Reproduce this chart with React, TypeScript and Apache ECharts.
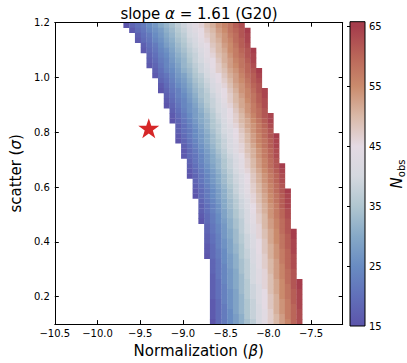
import React, { useEffect, useRef } from 'react';
import * as echarts from 'echarts';

const FONT = 'DejaVu Sans';

// Axis ticks
const xTicks = [-10.5, -10.0, -9.5, -9.0, -8.5, -8.0, -7.5];
const yTicks = [0.2, 0.4, 0.6, 0.8, 1.0, 1.2];
const cbarLabels = [15, 25, 35, 45, 55, 65];
const cbarTickMarks = [25, 35, 45, 55, 65];

// Model grid (β columns, σ rows)
const betaStart = -9.697;
const betaStep = 0.0675;
const sigmaTop = 1.2;
const sigmaStep = 1.1 / 60;

// first filled column of each σ row (top row first)
const rowStart = [
  0, 1, 2, 2, 3, 3, 4, 4, 4, 5, 5, 6, 6, 6, 7, 7, 7, 8, 8, 8,
  9, 9, 9, 9, 10, 10, 10, 11, 11, 11, 11, 12, 12, 12, 12, 13, 13, 13, 13, 13,
  14, 14, 14, 14, 14, 14, 14, 15, 15, 15, 15, 15, 15, 15, 15, 15, 15, 15, 15, 15,
];

// N_obs of each filled cell, row by row (top row first)
const rowValues = [
  [15, 18, 20, 22, 25, 27, 30, 32, 34, 37, 39, 42, 44, 46, 49, 51, 54, 56, 58, 61, 63],
  [16, 19, 21, 24, 26, 28, 31, 33, 36, 38, 41, 43, 45, 48, 50, 53, 55, 58, 60, 62, 65],
  [17, 20, 22, 25, 27, 30, 32, 35, 37, 40, 42, 45, 47, 49, 52, 54, 57, 59, 62, 64],
  [16, 19, 21, 24, 26, 29, 31, 34, 36, 39, 41, 44, 46, 49, 51, 54, 56, 59, 61, 64],
  [17, 20, 22, 25, 28, 30, 33, 35, 38, 40, 43, 45, 48, 50, 53, 55, 58, 61, 63],
  [16, 19, 21, 24, 26, 29, 32, 34, 37, 39, 42, 44, 47, 50, 52, 55, 57, 60, 62, 65],
  [18, 20, 23, 25, 28, 31, 33, 36, 38, 41, 44, 46, 49, 51, 54, 57, 59, 62, 64],
  [17, 19, 22, 24, 27, 30, 32, 35, 38, 40, 43, 45, 48, 51, 53, 56, 58, 61, 64],
  [16, 18, 21, 24, 26, 29, 32, 34, 37, 39, 42, 45, 47, 50, 53, 55, 58, 60, 63],
  [17, 20, 23, 25, 28, 31, 33, 36, 39, 41, 44, 47, 49, 52, 54, 57, 60, 62, 65],
  [16, 19, 21, 24, 27, 29, 32, 35, 37, 40, 43, 45, 48, 51, 53, 56, 59, 61, 64],
  [18, 20, 23, 26, 28, 31, 34, 36, 39, 42, 45, 47, 50, 53, 55, 58, 61, 63],
  [16, 19, 22, 25, 27, 30, 33, 35, 38, 41, 43, 46, 49, 52, 54, 57, 60, 62],
  [15, 18, 21, 23, 26, 29, 32, 34, 37, 40, 43, 45, 48, 51, 54, 56, 59, 62, 64],
  [17, 20, 23, 25, 28, 31, 34, 36, 39, 42, 45, 47, 50, 53, 56, 58, 61, 64],
  [16, 19, 22, 24, 27, 30, 33, 36, 38, 41, 44, 47, 50, 52, 55, 58, 61, 63],
  [15, 18, 21, 24, 26, 29, 32, 35, 38, 40, 43, 46, 49, 52, 54, 57, 60, 63],
  [17, 20, 23, 26, 28, 31, 34, 37, 40, 42, 45, 48, 51, 54, 57, 59, 62],
  [16, 19, 22, 25, 28, 30, 33, 36, 39, 42, 45, 47, 50, 53, 56, 59, 62, 64],
  [15, 18, 21, 24, 27, 30, 32, 35, 38, 41, 44, 47, 50, 52, 55, 58, 61, 64],
  [17, 20, 23, 26, 29, 32, 35, 37, 40, 43, 46, 49, 52, 54, 57, 60, 63],
  [17, 20, 22, 25, 28, 31, 34, 37, 40, 42, 45, 48, 51, 54, 57, 59, 62],
  [16, 19, 22, 25, 27, 30, 33, 36, 39, 42, 45, 47, 50, 53, 56, 59, 62, 65],
  [15, 18, 21, 24, 27, 30, 33, 35, 38, 41, 44, 47, 50, 53, 56, 58, 61, 64],
  [17, 20, 23, 26, 29, 32, 35, 38, 41, 43, 46, 49, 52, 55, 58, 61, 64],
  [16, 19, 22, 25, 28, 31, 34, 37, 40, 43, 46, 49, 51, 54, 57, 60, 63],
  [16, 19, 21, 24, 27, 30, 33, 36, 39, 42, 45, 48, 51, 54, 57, 60, 63],
  [18, 21, 24, 27, 30, 32, 35, 38, 41, 44, 47, 50, 53, 56, 59, 62],
  [17, 20, 23, 26, 29, 32, 35, 38, 41, 44, 47, 50, 53, 56, 59, 62, 65],
  [16, 19, 22, 25, 28, 31, 34, 37, 40, 43, 46, 49, 52, 55, 58, 61, 64],
  [15, 18, 21, 24, 27, 30, 33, 36, 39, 42, 45, 48, 51, 54, 57, 60, 63],
  [18, 21, 24, 27, 30, 33, 36, 39, 42, 45, 48, 51, 54, 57, 60, 63],
  [17, 20, 23, 26, 29, 32, 35, 38, 41, 44, 47, 50, 53, 56, 59, 62],
  [16, 19, 22, 25, 28, 31, 34, 38, 41, 44, 47, 50, 53, 56, 59, 62, 65],
  [15, 19, 22, 25, 28, 31, 34, 37, 40, 43, 46, 49, 52, 55, 58, 61, 64],
  [18, 21, 24, 27, 30, 33, 36, 39, 42, 46, 49, 52, 55, 58, 61, 64],
  [17, 20, 23, 26, 30, 33, 36, 39, 42, 45, 48, 51, 54, 57, 61, 64],
  [17, 20, 23, 26, 29, 32, 35, 38, 41, 45, 48, 51, 54, 57, 60, 63],
  [16, 19, 22, 25, 29, 32, 35, 38, 41, 44, 47, 50, 54, 57, 60, 63],
  [15, 19, 22, 25, 28, 31, 34, 37, 41, 44, 47, 50, 53, 56, 59, 62],
  [18, 21, 24, 27, 31, 34, 37, 40, 43, 46, 50, 53, 56, 59, 62],
  [18, 21, 24, 27, 30, 33, 37, 40, 43, 46, 49, 52, 55, 59, 62, 65],
  [17, 20, 23, 27, 30, 33, 36, 39, 42, 46, 49, 52, 55, 58, 61, 65],
  [17, 20, 23, 26, 29, 33, 36, 39, 42, 45, 48, 52, 55, 58, 61, 64],
  [16, 19, 23, 26, 29, 32, 35, 39, 42, 45, 48, 51, 54, 58, 61, 64],
  [16, 19, 22, 25, 29, 32, 35, 38, 41, 45, 48, 51, 54, 57, 60, 64],
  [15, 19, 22, 25, 28, 31, 35, 38, 41, 44, 47, 51, 54, 57, 60, 63],
  [18, 21, 25, 28, 31, 34, 37, 41, 44, 47, 50, 53, 57, 60, 63],
  [18, 21, 24, 28, 31, 34, 37, 40, 44, 47, 50, 53, 56, 60, 63],
  [18, 21, 24, 27, 30, 34, 37, 40, 43, 46, 50, 53, 56, 59, 62],
  [17, 21, 24, 27, 30, 33, 37, 40, 43, 46, 49, 53, 56, 59, 62],
  [17, 20, 24, 27, 30, 33, 36, 40, 43, 46, 49, 52, 55, 59, 62, 65],
  [17, 20, 23, 27, 30, 33, 36, 39, 42, 46, 49, 52, 55, 58, 62, 65],
  [17, 20, 23, 26, 29, 33, 36, 39, 42, 45, 49, 52, 55, 58, 61, 64],
  [17, 20, 23, 26, 29, 32, 36, 39, 42, 45, 48, 51, 55, 58, 61, 64],
  [16, 19, 23, 26, 29, 32, 35, 38, 42, 45, 48, 51, 54, 57, 61, 64],
  [16, 19, 22, 26, 29, 32, 35, 38, 41, 45, 48, 51, 54, 57, 60, 64],
  [16, 19, 22, 25, 29, 32, 35, 38, 41, 44, 47, 51, 54, 57, 60, 63],
  [16, 19, 22, 25, 28, 31, 35, 38, 41, 44, 47, 50, 53, 57, 60, 63],
  [15, 19, 22, 25, 28, 31, 34, 37, 41, 44, 47, 50, 53, 56, 60, 63],
];

// Best-fit point (star)
const starPoint = [-9.4, 0.815];

// Colour map (values 15..65, step 5)
const cmapValues = [15, 20, 25, 30, 35, 40, 45, 50, 55, 60, 65];
const cmapColors = [
  '#5c55ab', '#6170ba', '#698cc2', '#86a9c7', '#b0c6d0', '#d4d8df',
  '#e4dae3', '#d9b9a8', '#ca8b6d', '#ba6659', '#a63d4c',
];
const cbarMin = 15;
const cbarMax = 65.8;

const fmt1 = (v: number) => (v < 0 ? '\u2212' : '') + Math.abs(v).toFixed(1);

export default function App() {
  const ref = useRef<HTMLDivElement>(null);

  useEffect(() => {
    if (!ref.current) return;
    const chart = echarts.init(ref.current, null, { renderer: 'svg' });

    const cells: number[][] = [];
    rowValues.forEach((vals, j) => {
      const yTop = sigmaTop - j * sigmaStep;
      const yBot = yTop - sigmaStep;
      vals.forEach((v, i) => {
        const k = rowStart[j] + i;
        const x0 = betaStart + k * betaStep;
        cells.push([x0, x0 + betaStep, yBot, yTop, v]);
      });
    });

    const stops = cmapValues.map((v, i) => ({
      offset: (v - cbarMin) / (cbarMax - cbarMin),
      color: cmapColors[i],
    }));
    stops.push({ offset: 1, color: cmapColors[cmapColors.length - 1] });

    const axisLine = { show: true, onZero: false, lineStyle: { color: '#000', width: 1 } };
    const tickStyle = { color: '#000', width: 1 };
    const labelStyle = { fontSize: 10, color: '#000', fontFamily: FONT };
    const nameStyle = {
      fontSize: 15,
      color: '#000',
      fontFamily: FONT,
      rich: { i: { fontSize: 15, fontStyle: 'italic', color: '#000', fontFamily: FONT } },
    };

    const cbL = 350, cbT = 21.7, cbW = 15, cbH = 304.3;

    chart.setOption({
      animation: false,
      backgroundColor: '#fff',
      textStyle: { fontFamily: FONT },
      title: {
        text: 'slope {i|α} = 1.61 (G20)',
        left: 194,
        top: 1,
        textAlign: 'center',
        textStyle: {
          fontSize: 15,
          fontWeight: 'normal',
          color: '#000',
          fontFamily: FONT,
          rich: { i: { fontSize: 15, fontStyle: 'italic', color: '#000', fontFamily: FONT } },
        },
      },
      grid: [
        { left: 45, top: 22.7, width: 297.7, height: 303.3 },
        { left: cbL, top: cbT, width: cbW, height: cbH },
      ],
      visualMap: {
        show: false,
        type: 'continuous',
        min: 15,
        max: 65,
        dimension: 4,
        seriesIndex: 0,
        inRange: { color: cmapColors },
      },
      xAxis: [
        {
          gridIndex: 0, type: 'value', position: 'bottom', min: -10.5, max: -7.13, interval: 0.5,
          axisLine,
          axisTick: { show: true, inside: true, length: 4, customValues: xTicks, lineStyle: tickStyle },
          axisLabel: { ...labelStyle, customValues: xTicks, formatter: fmt1, margin: 4 },
          splitLine: { show: false },
          name: 'Normalization ({i|β})', nameLocation: 'middle', nameGap: 17, nameTextStyle: nameStyle,
        },
        {
          gridIndex: 0, type: 'value', position: 'top', min: -10.5, max: -7.13, interval: 0.5,
          axisLine,
          axisTick: { show: true, inside: true, length: 4, customValues: xTicks, lineStyle: tickStyle },
          axisLabel: { show: false },
          splitLine: { show: false },
        },
        { gridIndex: 1, type: 'value', min: 0, max: 1, show: false },
      ],
      yAxis: [
        {
          gridIndex: 0, type: 'value', position: 'left', min: 0.1, max: 1.2,
          axisLine,
          axisTick: { show: true, inside: true, length: 4, customValues: yTicks, lineStyle: tickStyle },
          axisLabel: { ...labelStyle, customValues: yTicks, formatter: fmt1, margin: 5 },
          splitLine: { show: false },
          name: 'scatter ({i|σ})', nameLocation: 'middle', nameGap: 24, nameRotate: 90, nameTextStyle: nameStyle,
        },
        {
          gridIndex: 0, type: 'value', position: 'right', min: 0.1, max: 1.2,
          axisLine,
          axisTick: { show: true, inside: true, length: 4, customValues: yTicks, lineStyle: tickStyle },
          axisLabel: { show: false },
          splitLine: { show: false },
        },
        {
          gridIndex: 1, type: 'value', position: 'right', min: cbarMin, max: cbarMax,
          axisLine: { show: false },
          axisTick: { show: true, inside: true, length: 3, customValues: cbarTickMarks, lineStyle: tickStyle },
          axisLabel: { ...labelStyle, customValues: cbarLabels, formatter: (v: number) => String(Math.round(v)), margin: 4 },
          splitLine: { show: false },
          z: 5,
        },
      ],
      series: [
        {
          type: 'custom',
          xAxisIndex: 0,
          yAxisIndex: 0,
          clip: true,
          data: cells,
          encode: { x: [0, 1], y: [2, 3] },
          renderItem: (params: any, api: any) => {
            const p0 = api.coord([api.value(0), api.value(3)]);
            const p1 = api.coord([api.value(1), api.value(2)]);
            return {
              type: 'rect',
              shape: { x: p0[0], y: p0[1], width: p1[0] - p0[0] + 0.3, height: p1[1] - p0[1] + 0.3 },
              style: { fill: api.visual('color') },
            };
          },
        },
        {
          type: 'scatter',
          xAxisIndex: 0,
          yAxisIndex: 0,
          data: [starPoint],
          symbol: 'path://M50,0 L61.8,35.1 L98.9,35.1 L69,56.9 L80.3,91.9 L50,70.2 L19.7,91.9 L31,56.9 L1.1,35.1 L38.2,35.1 Z',
          symbolSize: [21, 20],
          itemStyle: { color: '#d62728', opacity: 1 },
          z: 5,
        },
      ],
      graphic: [
        {
          type: 'rect',
          z: -1,
          shape: { x: cbL, y: cbT, width: cbW, height: cbH },
          style: {
            fill: new echarts.graphic.LinearGradient(0, 1, 0, 0, stops),
            stroke: '#000',
            lineWidth: 1,
          },
        },
        {
          type: 'text',
          x: 397,
          y: 174,
          rotation: Math.PI / 2,
          style: {
            text: '{i|N}{s|obs}',
            align: 'center',
            verticalAlign: 'middle',
            rich: {
              i: { fontSize: 15, fontStyle: 'italic', fontFamily: FONT, fill: '#000', color: '#000', lineHeight: 18 },
              s: { fontSize: 10, fontFamily: FONT, fill: '#000', color: '#000', verticalAlign: 'bottom', lineHeight: 10 },
            },
          },
        },
      ],
    });

    return () => chart.dispose();
  }, []);

  return (
    <div
      ref={ref}
      style={{ position: 'fixed', left: 0, top: 0, width: 407, height: 363, background: '#fff' }}
    />
  );
}
